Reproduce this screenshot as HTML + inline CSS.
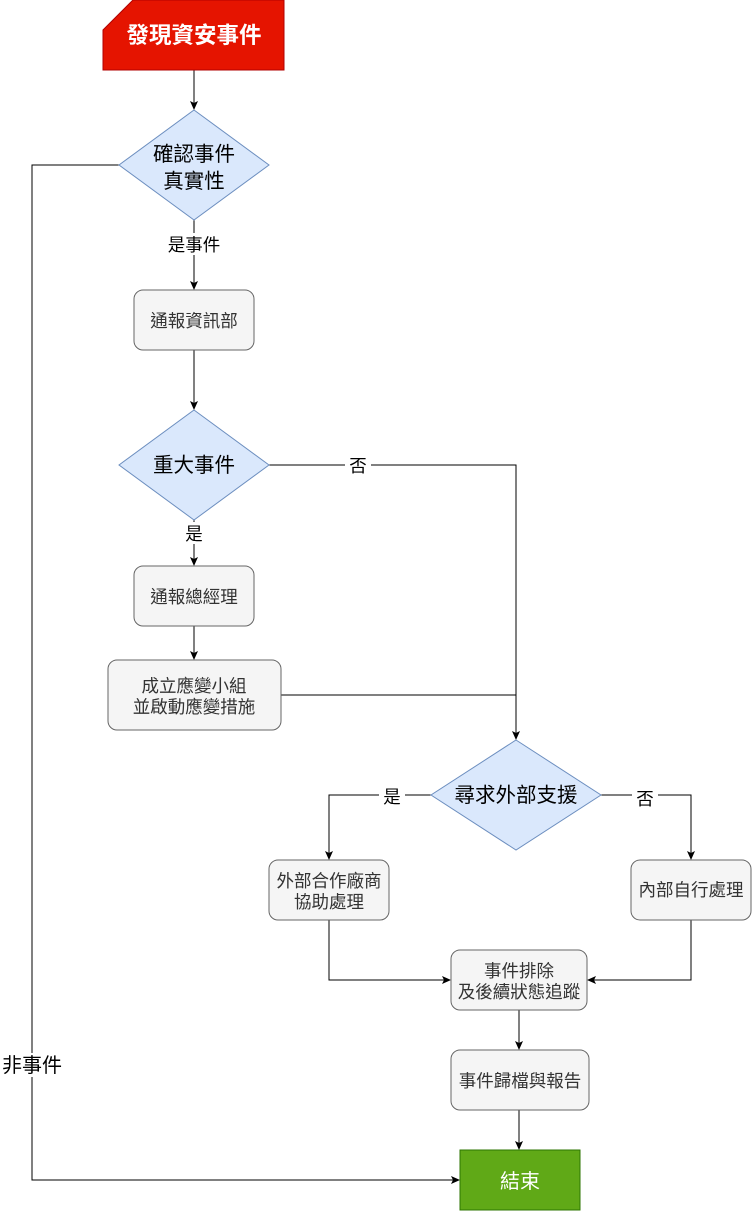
<!DOCTYPE html>
<html><head><meta charset="utf-8"><style>
html,body{margin:0;padding:0;background:#fff;}
text{font-family:"Liberation Sans","Noto Sans CJK TC",sans-serif;}
</style></head><body>
<svg width="752" height="1211" viewBox="0 0 752 1211" xmlns="http://www.w3.org/2000/svg">
<defs><marker id="a" markerWidth="10" markerHeight="10" refX="8" refY="5" orient="auto" markerUnits="userSpaceOnUse"><path d="M0,1 L9,5 L0,9 L2,5 Z" fill="#000"/></marker></defs>
<g stroke="#000" stroke-width="1" fill="none">
<line x1="194" y1="70" x2="194" y2="109" marker-end="url(#a)"/>
<line x1="194" y1="220" x2="194" y2="289" marker-end="url(#a)"/>
<line x1="194" y1="350" x2="194" y2="409" marker-end="url(#a)"/>
<line x1="194" y1="520" x2="194" y2="565" marker-end="url(#a)"/>
<line x1="194" y1="626" x2="194" y2="659" marker-end="url(#a)"/>
<polyline points="269,465 516,465 516,739" marker-end="url(#a)"/>
<line x1="281" y1="695" x2="516" y2="695"/>
<polyline points="431,795 329,795 329,859" marker-end="url(#a)"/>
<polyline points="601,795 691,795 691,859" marker-end="url(#a)"/>
<polyline points="329,920 329,980 450,980" marker-end="url(#a)"/>
<polyline points="691,920 691,980 588,980" marker-end="url(#a)"/>
<line x1="519" y1="1010" x2="519" y2="1049" marker-end="url(#a)"/>
<line x1="519" y1="1110" x2="519" y2="1149" marker-end="url(#a)"/>
<polyline points="119,165 32,165 32,1180 459,1180" marker-end="url(#a)"/>
</g>
<polygon points="133,0 284,0 284,70 103,70 103,30" fill="#e51400" stroke="#b20000"/>
<text x="194" y="43" font-size="22.5" font-weight="bold" fill="#fff" text-anchor="middle">發現資安事件</text>
<g fill="#dae8fc" stroke="#6c8ebf">
<polygon points="194,110 269,165 194,220 119,165"/>
<polygon points="194,410 269,465 194,520 119,465"/>
<polygon points="516,740 601,795 516,850 431,795"/>
</g>
<g fill="#f5f5f5" stroke="#666">
<rect x="134" y="290" width="120" height="60" rx="9"/>
<rect x="134" y="566" width="120" height="60" rx="9"/>
<rect x="108" y="660" width="173" height="70" rx="9"/>
<rect x="269" y="860" width="120" height="60" rx="9"/>
<rect x="631" y="860" width="120" height="60" rx="9"/>
<rect x="451" y="950" width="136" height="60" rx="9"/>
<rect x="451" y="1050" width="138" height="60" rx="9"/>
</g>
<rect x="460" y="1150" width="120" height="60" fill="#60a917" stroke="#2d7600"/>
<g text-anchor="middle" font-size="20.5" fill="#000">
<text x="194" y="161">確認事件</text><text x="194" y="188">真實性</text>
<text x="194" y="472">重大事件</text>
<text x="516" y="802">尋求外部支援</text>
</g>
<g text-anchor="middle" font-size="17.5" fill="#333">
<text x="194" y="327">通報資訊部</text>
<text x="194" y="603">通報總經理</text>
<text x="194" y="692">成立應變小組</text><text x="194" y="713">並啟動應變措施</text>
<text x="329" y="887">外部合作廠商</text><text x="329" y="908">協助處理</text>
<text x="691" y="896">內部自行處理</text>
<text x="519" y="977">事件排除</text><text x="519" y="998">及後續狀態追蹤</text>
<text x="520" y="1087">事件歸檔與報告</text>
</g>
<text x="520" y="1188" font-size="20" fill="#fff" text-anchor="middle">結束</text>
<g font-size="17.5" text-anchor="middle">
<rect x="164" y="233" width="60" height="22" fill="#fff"/><text x="194" y="251">是事件</text>
<rect x="345" y="454" width="26" height="22" fill="#fff"/><text x="358" y="472">否</text>
<rect x="183" y="522" width="22" height="22" fill="#fff"/><text x="194" y="540">是</text>
<rect x="379" y="785" width="26" height="22" fill="#fff"/><text x="392" y="803">是</text>
<rect x="632" y="787" width="26" height="22" fill="#fff"/><text x="645" y="805">否</text>
</g>
<rect x="1" y="1053" width="64" height="24" fill="#fff"/>
<text x="32" y="1072" font-size="20" text-anchor="middle">非事件</text>
</svg>
</body></html>
